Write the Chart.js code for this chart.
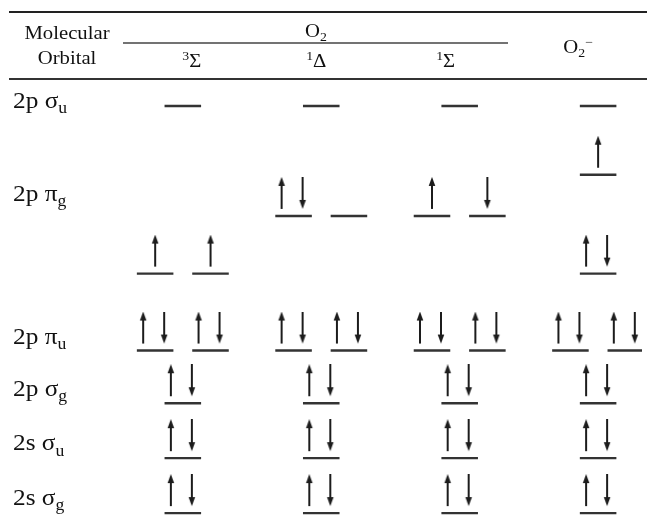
<!DOCTYPE html>
<html>
<head>
<meta charset="utf-8">
<script src="https://cdn.jsdelivr.net/npm/chart.js@4.4.1/dist/chart.umd.min.js"></script>
<style>
  html, body { margin: 0; padding: 0; background: #fff; }
  #mo { display: block; }
</style>
</head>
<body>
<canvas id="mo" width="647" height="523"></canvas>
<script>
// columns of the table (electronic states)
const columns = [
    [{ t: '3', sup: true }, { t: 'Σ' }],
    [{ t: '1', sup: true }, { t: 'Δ' }],
    [{ t: '1', sup: true }, { t: 'Σ' }],
    [{ t: 'O' }, { t: '2', sub: true }, { t: '−', sup: true }]
];
const columnX = [1, 2, 3, 4];

// orbital row labels and where they sit on the energy axis
const rowNames = [['2s σ', 'g'], ['2s σ', 'u'], ['2p σ', 'g'], ['2p π', 'u'], ['2p π', 'g'], ['2p σ', 'u']];
const rowLabelY = [1.14, 2.14, 3.14, 4.08, 6.68, 8.38];

// levels per column: [energy, slot in degenerate pair, electrons]
const tripletSigma = [[1, 0, 'ud'], [2, 0, 'ud'], [3, 0, 'ud'], [3.96, -1, 'ud'], [3.96, 1, 'ud'], [5.36, -1, 'u'], [5.36, 1, 'u'], [8.41, 0, '']];
const singletDelta = [[1, 0, 'ud'], [2, 0, 'ud'], [3, 0, 'ud'], [3.96, -1, 'ud'], [3.96, 1, 'ud'], [6.41, -1, 'ud'], [6.41, 1, ''], [8.41, 0, '']];
const singletSigma = [[1, 0, 'ud'], [2, 0, 'ud'], [3, 0, 'ud'], [3.96, -1, 'ud'], [3.96, 1, 'ud'], [6.41, -1, 'u'], [6.41, 1, 'd'], [8.41, 0, '']];
const superoxide = [[1, 0, 'ud'], [2, 0, 'ud'], [3, 0, 'ud'], [3.96, -1, 'ud'], [3.96, 1, 'ud'], [5.36, 0, 'ud'], [7.16, 0, 'u'], [8.41, 0, '']];

const PAIR_GAP = 0.2;   // spacing of degenerate orbitals (x units)
const HALF = 0.132;     // half length of a level line
const FONT = '"Liberation Serif", "Times New Roman", serif';
const INK = '#1c1c1c';

// build level segments and electron points
const levelPts = [];
const electronPts = [];
[tripletSigma, singletDelta, singletSigma, superoxide].forEach((levels, c) => {
    levels.forEach(([e, slot, spins]) => {
        const cx = columnX[c] + slot * PAIR_GAP;
        levelPts.push({ x: cx - HALF, y: e }, { x: cx + HALF, y: e }, { x: cx, y: null });
        for (const s of spins) {
            electronPts.push({ x: cx, y: e, spin: s, paired: spins.length === 2 });
        }
    });
});

// arrow sprite, centred on the level line; arrow sits above it
function arrowSprite(up, dx) {
    const c = document.createElement('canvas');
    c.width = 40;
    c.height = 78;
    const g = c.getContext('2d');
    const x = 20 + dx;
    const top = 0, bot = 32;
    g.strokeStyle = g.fillStyle = INK;
    g.lineWidth = 2;
    g.beginPath();
    if (up) { g.moveTo(x, bot); g.lineTo(x, top + 7); }
    else { g.moveTo(x, top); g.lineTo(x, bot - 7); }
    g.stroke();
    g.beginPath();
    if (up) { g.moveTo(x, top); g.lineTo(x - 3.3, top + 9); g.lineTo(x + 3.3, top + 9); }
    else { g.moveTo(x, bot); g.lineTo(x - 3.3, bot - 9); g.lineTo(x + 3.3, bot - 9); }
    g.closePath();
    g.fill();
    return c;
}
const sprites = {
    u1: arrowSprite(true, 0), d1: arrowSprite(false, 0),
    u2: arrowSprite(true, -12), d2: arrowSprite(false, 9)
};

// text with sub/superscripts, optionally stretched horizontally
function richText(ctx, parts, x, y, size, align, sx) {
    let w = 0;
    parts.forEach(p => {
        p.size = p.sub || p.sup ? Math.round(size * 0.68) : size;
        ctx.font = p.size + 'px ' + FONT;
        p.w = ctx.measureText(p.t).width;
        w += p.w;
    });
    ctx.save();
    ctx.translate(x, y);
    ctx.scale(sx, 1);
    ctx.textAlign = 'left';
    ctx.textBaseline = 'alphabetic';
    ctx.fillStyle = '#111';
    let cx = align === 'center' ? -w / 2 : 0;
    parts.forEach(p => {
        ctx.font = p.size + 'px ' + FONT;
        const dy = p.sub ? size * 0.22 : p.sup ? -size * 0.38 : 0;
        ctx.fillText(p.t, cx, dy);
        cx += p.w;
    });
    ctx.restore();
}

function rule(ctx, x1, x2, y, lw, color) {
    ctx.save();
    ctx.strokeStyle = color;
    ctx.lineWidth = lw;
    ctx.beginPath();
    ctx.moveTo(x1, y);
    ctx.lineTo(x2, y);
    ctx.stroke();
    ctx.restore();
}

// header, rules and row labels
const tablePlugin = {
    id: 'tableText',
    afterDraw(chart) {
        const ctx = chart.ctx;
        const xs = chart.scales.x, ys = chart.scales.y;
        const W = chart.width;
        const STRETCH = 1.15;

        rule(ctx, 9, W, 12, 2, '#222');
        rule(ctx, 9, W, 79, 2.2, '#333');
        rule(ctx, 123, 508, 43, 1.4, '#444');

        richText(ctx, [{ t: 'Molecular' }], 67, 39, 18, 'center', STRETCH);
        richText(ctx, [{ t: 'Orbital' }], 67, 64, 18, 'center', STRETCH);
        richText(ctx, [{ t: 'O' }, { t: '2', sub: true }], 316, 37, 18, 'center', STRETCH);

        const shift = [9, -5, -14, -20];
        const base = [67, 67, 67, 53];
        columns.forEach((parts, i) => {
            const px = xs.getPixelForValue(columnX[i]) + shift[i];
            richText(ctx, parts.map(p => Object.assign({}, p)), px, base[i], 18, 'center', STRETCH);
        });

        rowNames.forEach(([main, sub], i) => {
            const py = ys.getPixelForValue(rowLabelY[i]);
            richText(ctx, [{ t: main }, { t: sub, sub: true }], 13, py, 23, 'left', 1.1);
        });
    }
};

new Chart(document.getElementById('mo'), {
    type: 'line',
    data: {
        datasets: [
            {
                label: 'levels',
                data: levelPts,
                borderColor: '#333',
                borderWidth: 2.4,
                pointRadius: 0,
                spanGaps: false,
                fill: false
            },
            {
                label: 'electrons',
                data: electronPts,
                showLine: false,
                pointRadius: 1,
                pointStyle: ctx => {
                    const p = ctx.raw;
                    if (!p) return 'circle';
                    return sprites[p.spin + (p.paired ? '2' : '1')];
                }
            }
        ]
    },
    options: {
        responsive: false,
        animation: false,
        layout: { padding: 0 },
        plugins: { legend: { display: false }, tooltip: { enabled: false } },
        scales: {
            x: { type: 'linear', min: -0.2845, max: 4.317, display: false },
            y: { type: 'linear', min: 0.9107, max: 10.25, display: false }
        }
    },
    plugins: [tablePlugin]
});
</script>
</body>
</html>
